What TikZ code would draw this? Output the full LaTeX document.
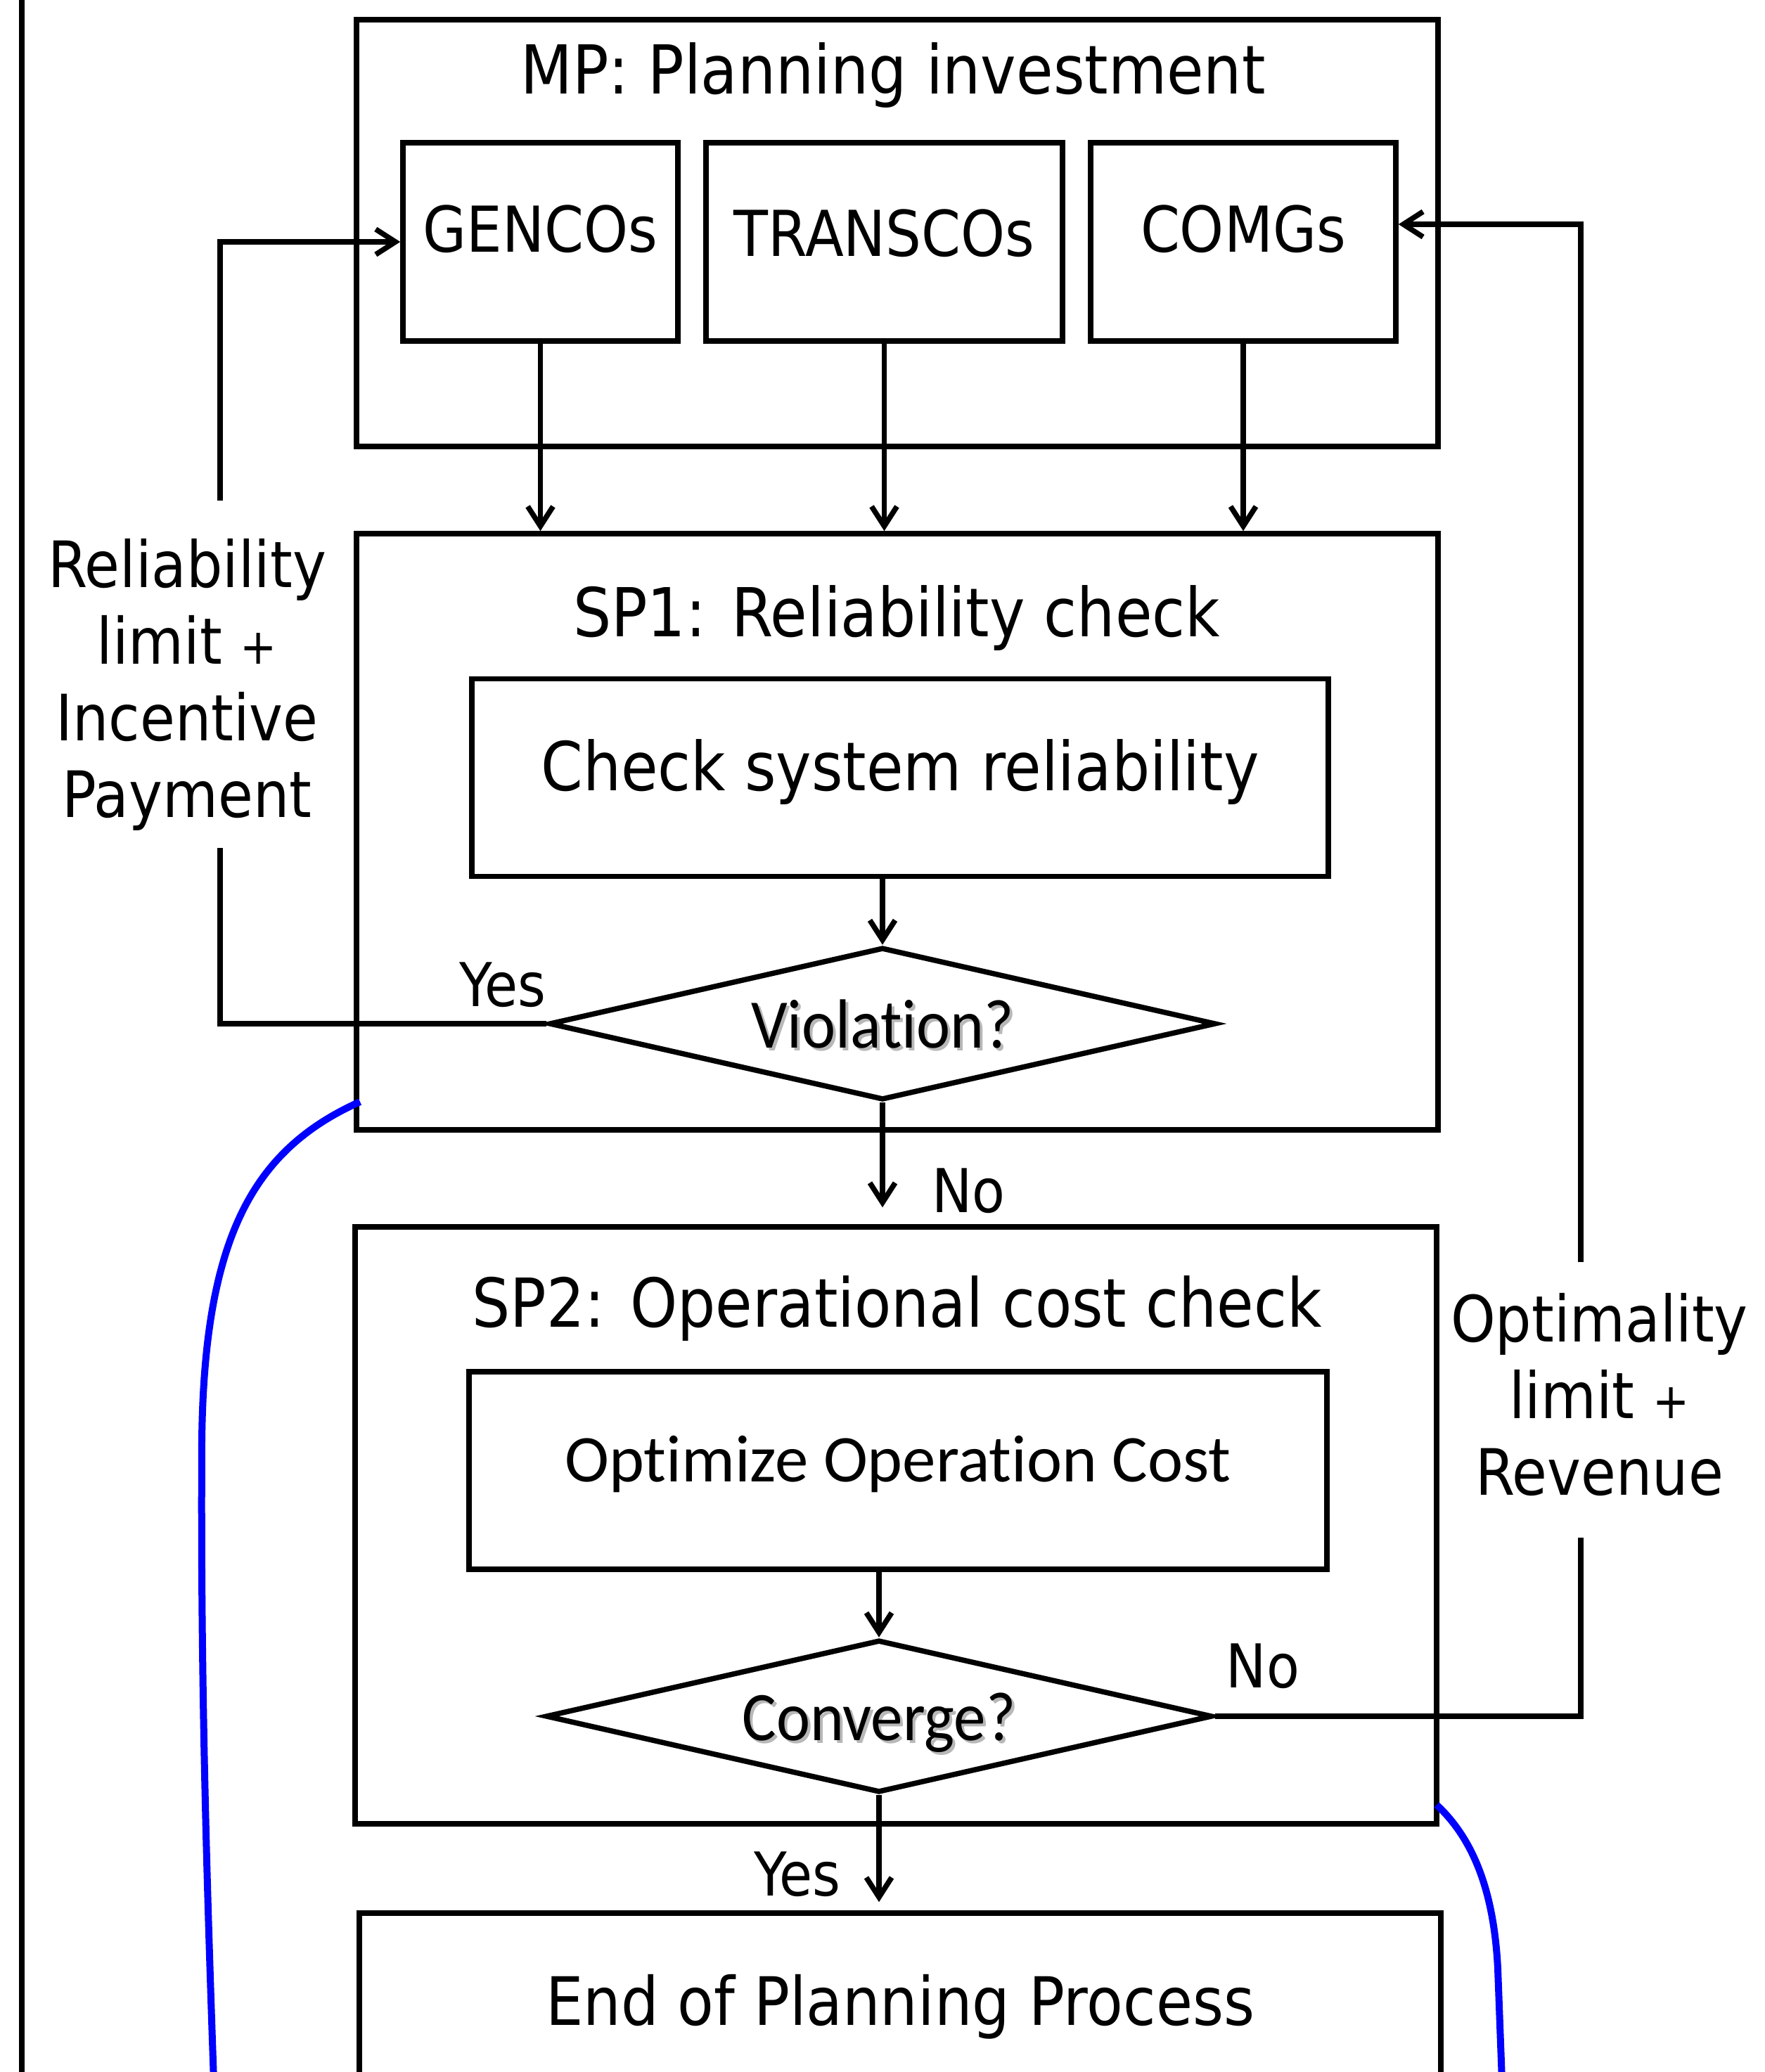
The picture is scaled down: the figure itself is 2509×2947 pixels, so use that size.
\documentclass[tikz,border=0pt]{standalone}
\usepackage{fontspec}
\setmainfont{DejaVu Sans}[FakeStretch=0.89]
\newfontfamily\calfont{Carlito}[Ligatures=NoCommon]
\newfontfamily\calnarrow{Carlito}[FakeStretch=0.92, Ligatures=NoCommon]
\usetikzlibrary{arrows.meta,shapes.geometric,calc}
\definecolor{loopblue}{RGB}{0,0,255}
\newcommand\fs[1]{\fontsize{#1}{#1}\selectfont}
% text with a soft grey offset copy behind it
\newcommand\shadowed[1]{\makebox[0pt][l]{\kern4pt\raisebox{-4pt}{\textcolor{black!28}{#1}}}#1}

\begin{document}
\begin{tikzpicture}[x=1pt,y=-1pt,
  line width=7.5pt,
  >={Straight Barb[length=28pt,width=36pt]},
  container/.style={draw, inner sep=0pt, minimum width=1538pt},
  actor/.style={draw, inner sep=0pt, minimum height=282pt, font=\fs{90},
    text height=70pt, text depth=42pt},
  task/.style={draw, inner sep=0pt, minimum height=281pt},
  decision/.style={draw, diamond, aspect=4.37, inner sep=0pt,
    minimum width=948pt, minimum height=217pt, font=\calnarrow\fs{99},
    text height=88pt, text depth=20pt},
  heading/.style={anchor=base, inner sep=0pt, font=\fs{96}},
  answer/.style={anchor=base, inner sep=0pt, font=\fs{86}},
  feedback/.style={align=center, inner sep=0pt, font=\fontsize{91}{109}\selectfont},
  loop/.style={draw=loopblue, line width=10pt}
]
\useasboundingbox (0,0) rectangle (2509,2947);
\clip (0,0) rectangle (2509,2947);

% outer frame edge
\draw[line width=7.5pt] (31,-10) -- (31,2960);

% master problem
\node[container, minimum height=607pt] (mp) at (1276,331.5) {};
\node[heading] (mpTitle) at (1270,133) {MP: Planning investment};
\node[actor, minimum width=391pt] (gen) at (768.5,344) {GENCOs};
\node[actor, minimum width=507pt, text depth=30pt] (tra) at (1257.5,344) {TRANSCOs};
\node[actor, minimum width=434pt] (com) at (1768,344) {COMGs};

% subproblem 1
\node[container, minimum height=848pt] (sp1) at (1276,1183) {};
\node[heading] (sp1Title) at (1275,905) {SP1: Reliability check};
\node[task, minimum width=1218pt, font=\fs{96}, text height=72pt, text depth=36pt]
  (chk) at (1280,1106) {Check system reliability};
\node[decision] (viol) at (1255,1456) {\shadowed{Violation?}};

% subproblem 2
\node[container, minimum height=849pt] (sp2) at (1274,2169.5) {};
\node[heading] (sp2Title) at (1275.5,1887) {SP2: Operational cost check};
\node[task, minimum width=1220pt, font=\calfont\fs{95}, text height=62pt, text depth=31pt]
  (opt) at (1277,2091.5) {Optimize Operation Cost};
\node[decision] (conv) at (1250,2441) {\shadowed{Converge?}};

% final step
\node[container, minimum height=268pt, font=\fs{95}, text height=72pt, text depth=22pt]
  (endbox) at (1280,2855) {End of Planning Process};

% branch labels
\node[answer] (yesRel) at (715,1431) {Yes};
\node[answer] (noRel) at (1377.5,1724) {No};
\node[answer] (noConv) at (1796,2400) {No};
\node[answer] (yesConv) at (1134,2696) {Yes};

% feedback labels
\node[feedback] (relFb) at (266,974) {Reliability\\limit {\fs{70}+}\\Incentive\\Payment};
\node[feedback] (optFb) at (2274.5,1984) {Optimality\\limit {\fs{70}+}\\Revenue};

% flow
\draw[->] (gen.south) -- (gen.south |- sp1.north);
\draw[->] (tra.south) -- (tra.south |- sp1.north);
\draw[->] (com.south) -- (com.south |- sp1.north);
\draw[->] (viol.north |- chk.south) -- (viol.north);
\draw[->, shorten >=24pt] (viol.south) -- (viol.south |- sp2.north);
\draw[->] (conv.north |- opt.south) -- (conv.north);
\draw[->, shorten >=12pt] (conv.south) -- (conv.south |- endbox.north);

% reliability feedback loop
\coordinate (relLow) at (313,1206);
\coordinate (relHigh) at (313,712);
\draw (viol.west) -| (relLow);
\draw[->] (relHigh) |- (gen.west);

% optimality feedback loop
\coordinate (optLow) at (2248,2187);
\coordinate (optHigh) at (2248,1795);
\draw (conv.east) -| (optLow);
\draw[->] (optHigh) |- ([yshift=25pt]com.east);

% blue outline curves
\coordinate (leftStart) at (512,1567);
\coordinate (rightStart) at (2043,2567);
\draw[loop] (leftStart) .. controls (360,1635) and (290,1760) .. (287,2050)
  .. controls (285,2400) and (295,2700) .. (304,2960);
\draw[loop] (rightStart) .. controls (2100,2620) and (2125,2700) .. (2130,2800)
  -- (2136,2960);
\end{tikzpicture}
\end{document}
